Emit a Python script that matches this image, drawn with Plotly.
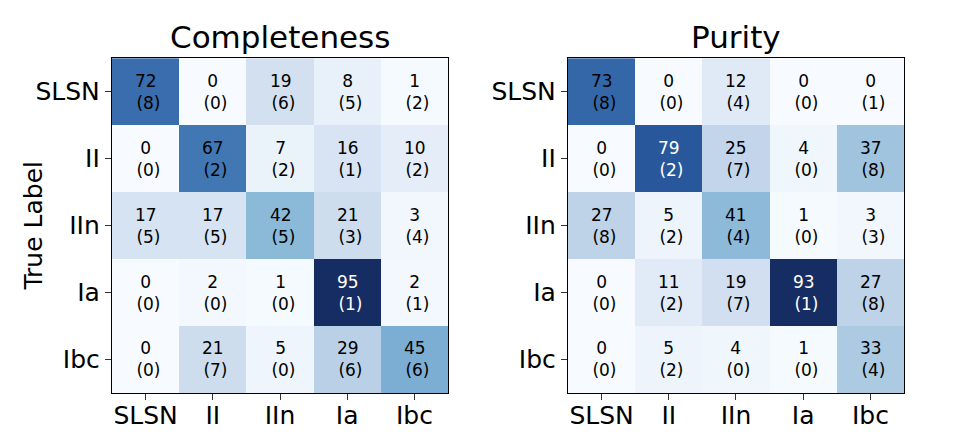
import plotly.graph_objects as go

labels = ["SLSN", "II", "IIn", "Ia", "Ibc"]

completeness = [
    [72, 0, 19, 8, 1],
    [0, 67, 7, 16, 10],
    [17, 17, 42, 21, 3],
    [0, 2, 1, 95, 2],
    [0, 21, 5, 29, 45],
]
completeness_err = [
    [8, 0, 6, 5, 2],
    [0, 2, 2, 1, 2],
    [5, 5, 5, 3, 4],
    [0, 0, 0, 1, 1],
    [0, 7, 0, 6, 6],
]

purity = [
    [73, 0, 12, 0, 0],
    [0, 79, 25, 4, 37],
    [27, 5, 41, 1, 3],
    [0, 11, 19, 93, 27],
    [0, 5, 4, 1, 33],
]
purity_err = [
    [8, 0, 4, 0, 1],
    [0, 2, 7, 0, 8],
    [8, 2, 4, 0, 3],
    [0, 2, 7, 1, 8],
    [0, 2, 0, 0, 4],
]

# Blues-like scale, a bit muted in the dark end like the reference
blues = [
    [0.0, "rgb(247,251,255)"],
    [0.05, "rgb(238,245,252)"],
    [0.2, "rgb(210,224,240)"],
    [0.29, "rgb(190,210,232)"],
    [0.40, "rgb(160,196,222)"],
    [0.44, "rgb(140,186,216)"],
    [0.47, "rgb(125,175,212)"],
    [0.705, "rgb(65,120,180)"],
    [0.77, "rgb(55,106,171)"],
    [0.85, "rgb(40,88,155)"],
    [1.0, "rgb(21,45,98)"],
]

FONT = "DejaVu Sans"

fig = go.Figure()
annotations = []

panels = [
    ("Completeness", completeness, completeness_err, "x", "y"),
    ("Purity", purity, purity_err, "x2", "y2"),
]

for title, vals, errs, xa, ya in panels:
    zmax = max(max(r) for r in vals)
    fig.add_trace(go.Heatmap(
        z=vals, x=labels, y=labels,
        colorscale=blues, zmin=0, zmax=zmax,
        showscale=False, xaxis=xa, yaxis=ya,
        xgap=0, ygap=0, hoverinfo="skip",
    ))
    for i, row in enumerate(vals):
        for j, v in enumerate(row):
            annotations.append(dict(
                x=labels[j], y=labels[i], xref=xa, yref=ya,
                text=f"{v}<br>\u00a0({errs[i][j]})",
                showarrow=False, align="center",
                font=dict(family=FONT, size=17,
                          color="white" if v > 75 else "black"),
            ))

axis_common = dict(
    type="category", showline=True, linecolor="black", linewidth=1.3,
    mirror=True, ticks="outside", ticklen=6, tickwidth=1.3,
    tickcolor="#333", showgrid=False, zeroline=False,
    tickfont=dict(family=FONT, size=25, color="black"),
)

ydom = [0.133, 0.887]

fig.update_layout(
    width=962, height=444,
    margin=dict(l=0, r=0, t=0, b=0),
    paper_bgcolor="white", plot_bgcolor="white",
    xaxis=dict(axis_common, domain=[0.1081, 0.4574], anchor="y",
               ticklabelstandoff=-6),
    yaxis=dict(axis_common, domain=ydom, anchor="x",
               autorange="reversed"),
    xaxis2=dict(axis_common, domain=[0.5821, 0.9314], anchor="y2",
                ticklabelstandoff=-6),
    yaxis2=dict(axis_common, domain=ydom, anchor="x2",
                autorange="reversed"),
)

# y axis title placed as rotated text
annotations.append(dict(text="True Label", x=0.027, y=sum(ydom) / 2,
                        xref="paper", yref="paper", showarrow=False,
                        textangle=-90, xanchor="center", yanchor="middle",
                        font=dict(family=FONT, size=25, color="black")))

annotations.append(dict(text="Completeness", x=0.2828, y=0.935, xref="paper",
                        yref="paper", showarrow=False, xanchor="center",
                        yanchor="middle",
                        font=dict(family=FONT, size=31, color="black")))
annotations.append(dict(text="Purity", x=0.7568, y=0.935, xref="paper",
                        yref="paper", showarrow=False, xanchor="center",
                        yanchor="middle",
                        font=dict(family=FONT, size=31, color="black")))
fig.update_layout(annotations=annotations)

fig.write_html("out.html")
